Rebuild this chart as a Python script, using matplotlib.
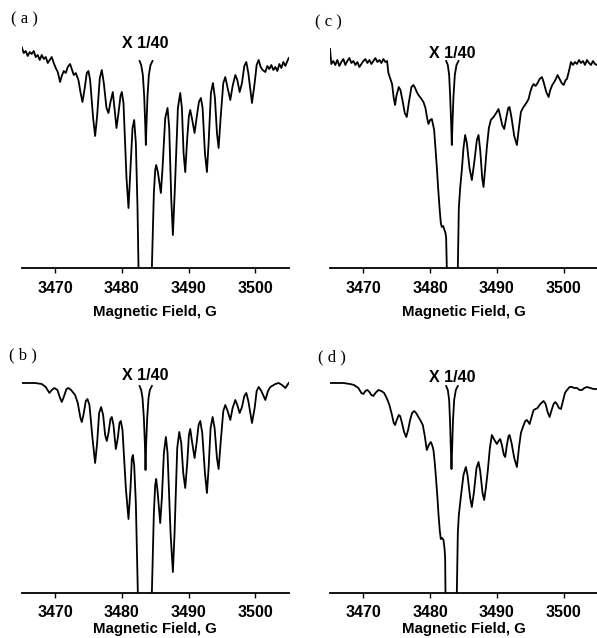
import numpy as np
import matplotlib
matplotlib.use('Agg')
import matplotlib.pyplot as plt

# EPR spectra, field in G, intensity in arbitrary units (baseline = 0)
# each panel: left wing, x1/40 inset of the central line, right wing

# (a)
a_left_x = [3465.0, 3465.3, 3465.6, 3465.9, 3466.2, 3466.5, 3466.8, 3467.1, 3467.4, 3467.7,
            3468.0, 3468.3, 3468.6, 3468.9, 3469.2, 3469.5, 3469.8, 3470.1, 3470.4, 3470.75,
            3471.0, 3471.3, 3471.6, 3471.9, 3472.25, 3472.5, 3472.8, 3473.1, 3473.5, 3473.8,
            3474.1, 3474.4, 3474.75, 3475.0, 3475.25, 3475.7, 3476.0, 3476.3, 3476.7, 3477.0,
            3477.3, 3477.7, 3478.0, 3478.3, 3478.65, 3478.9, 3479.2, 3479.5, 3479.8, 3480.0,
            3480.25, 3480.7, 3481.0, 3481.3, 3481.6, 3481.85, 3482.1, 3482.35, 3482.5]
a_left_y = [221, 215, 217, 212, 216, 214, 217, 211, 213, 208,
            213, 209, 211, 205, 208, 211, 205, 200, 196, 186,
            192, 197, 195, 201, 204, 199, 193, 195, 188, 176,
            166, 178, 195, 197, 188, 150, 132, 152, 190, 198,
            185, 160, 155, 166, 176, 160, 140, 155, 172, 176,
            165, 90, 60, 100, 140, 148, 125, 60, 0]
a_mid_x = [3482.65, 3482.9, 3483.15, 3483.35, 3483.5, 3483.6, 3483.7, 3483.85, 3484.05, 3484.3, 3484.6]
a_mid_y = [207, 203, 193, 172, 145, 123, 145, 172, 193, 203, 207]
a_right_x = [3484.5, 3484.8, 3485.0, 3485.15, 3485.4, 3485.85, 3486.1, 3486.5, 3486.85, 3487.1,
             3487.4, 3487.65, 3487.95, 3488.4, 3488.75, 3489.0, 3489.25, 3489.5, 3489.8, 3490.05,
             3490.25, 3490.55, 3490.9, 3491.2, 3491.55, 3491.85, 3492.1, 3492.45, 3492.75, 3493.0,
             3493.35, 3493.65, 3493.95, 3494.25, 3494.5, 3494.8, 3495.2, 3495.5, 3495.85, 3496.25,
             3496.6, 3497.0, 3497.3, 3497.65, 3498.0, 3498.35, 3498.65, 3498.95, 3499.5, 3499.9,
             3500.2, 3500.5, 3500.8, 3501.1, 3501.5, 3501.8, 3502.1, 3502.4, 3502.7, 3503.0,
             3503.3, 3503.6, 3503.9, 3504.2, 3504.5, 3504.8, 3505.0]
a_right_y = [0, 75, 98, 103, 96, 75, 100, 150, 160, 140,
             70, 33, 80, 160, 175, 160, 115, 96, 130, 152,
             158, 148, 135, 150, 166, 170, 160, 115, 96, 125,
             175, 185, 170, 135, 120, 150, 185, 191, 180, 168,
             182, 193, 188, 176, 185, 202, 206, 195, 165, 185,
             203, 208, 201, 198, 196, 202, 199, 203, 198, 201,
             197, 204, 200, 206, 202, 207, 210]

# (b)
b_left_x = [3465.0, 3467.0, 3468.0, 3468.6, 3469.15, 3469.5, 3469.9, 3470.35, 3470.75, 3471.0,
            3471.3, 3471.7, 3472.0, 3472.4, 3473.0, 3473.4, 3473.8, 3474.0, 3474.25, 3474.6,
            3474.85, 3475.15, 3475.6, 3476.0, 3476.3, 3476.6, 3476.9, 3477.2, 3477.5, 3477.75,
            3478.0, 3478.3, 3478.5, 3478.75, 3479.1, 3479.4, 3479.65, 3479.85, 3480.1, 3480.6,
            3481.0, 3481.3, 3481.5, 3481.65, 3481.85, 3482.1, 3482.4]
b_left_y = [210, 210, 209, 206, 200, 203, 205, 203, 195, 191,
            196, 204, 205, 203, 198, 190, 175, 171, 178, 192,
            194, 188, 155, 130, 150, 180, 186, 178, 158, 152,
            160, 174, 176, 168, 144, 155, 170, 172, 163, 105,
            74, 105, 134, 138, 128, 90, 0]
b_mid_x = [3482.65, 3482.9, 3483.1, 3483.3, 3483.45, 3483.55, 3483.65, 3483.8, 3484.0, 3484.2, 3484.5]
b_mid_y = [207, 203, 195, 175, 150, 123, 150, 175, 195, 203, 207]
b_right_x = [3484.5, 3484.8, 3485.0, 3485.15, 3485.35, 3485.75, 3486.0, 3486.3, 3486.6, 3486.85,
             3487.3, 3487.65, 3487.9, 3488.3, 3488.6, 3488.9, 3489.2, 3489.5, 3489.8, 3490.05,
             3490.25, 3490.5, 3490.9, 3491.2, 3491.5, 3491.75, 3492.05, 3492.45, 3492.75, 3493.0,
             3493.3, 3493.6, 3493.9, 3494.25, 3494.5, 3494.8, 3495.2, 3495.5, 3495.85, 3496.25,
             3496.6, 3497.0, 3497.3, 3497.65, 3498.0, 3498.35, 3498.65, 3498.95, 3499.5, 3499.9,
             3500.2, 3500.5, 3500.9, 3501.5, 3501.9, 3502.25, 3503.0, 3503.5, 3504.0, 3504.5,
             3505.0]
b_right_y = [0, 80, 108, 114, 102, 70, 95, 140, 156, 140,
             60, 21, 60, 145, 161, 150, 120, 105, 130, 158,
             164, 152, 135, 150, 168, 172, 160, 120, 100, 125,
             165, 176, 165, 135, 124, 150, 182, 188, 182, 173,
             185, 193, 188, 180, 186, 197, 200, 192, 170, 185,
             202, 206, 202, 193, 202, 206, 209, 210, 208, 205,
             210]

# (c)
c_left_x = [3465.0, 3465.2, 3465.5, 3465.8, 3466.1, 3466.4, 3466.7, 3467.0, 3467.3, 3467.6,
            3467.9, 3468.2, 3468.5, 3468.8, 3469.1, 3469.4, 3469.7, 3470.0, 3470.3, 3470.6,
            3470.9, 3471.2, 3471.5, 3471.8, 3472.1, 3472.4, 3472.7, 3473.0, 3473.3, 3473.55,
            3473.75, 3474.0, 3474.3, 3474.55, 3474.75, 3474.95, 3475.3, 3475.55, 3475.85, 3476.2,
            3476.5, 3476.8, 3477.2, 3477.5, 3477.75, 3478.0, 3478.25, 3478.6, 3479.0, 3479.3,
            3479.55, 3479.75, 3480.0, 3480.25, 3480.45, 3480.6, 3480.8, 3481.0, 3481.2, 3481.4,
            3481.6, 3481.75, 3481.95, 3482.1, 3482.3, 3482.4, 3482.5]
c_left_y = [219, 204, 207, 203, 208, 202, 206, 209, 203, 207,
            210, 205, 207, 203, 206, 201, 204, 207, 209, 205,
            208, 204, 207, 210, 206, 208, 205, 209, 206, 207,
            195, 190, 184, 170, 163, 172, 181, 178, 168, 155,
            151, 165, 181, 183, 180, 176, 173, 170, 166, 160,
            150, 144, 148, 149, 143, 138, 120, 101, 80, 61,
            45, 41, 42, 39, 35, 30, 0]
c_mid_x = [3482.4, 3482.65, 3482.85, 3483.0, 3483.15, 3483.25, 3483.35, 3483.5, 3483.7, 3483.95, 3484.25]
c_mid_y = [207, 203, 193, 172, 145, 123, 145, 172, 193, 203, 207]
c_right_x = [3484.15, 3484.3, 3484.5, 3484.75, 3485.0, 3485.25, 3485.5, 3485.9, 3486.25, 3486.6,
             3487.0, 3487.25, 3487.5, 3487.8, 3488.0, 3488.25, 3488.5, 3488.8, 3489.1, 3489.5,
             3489.9, 3490.25, 3490.5, 3490.8, 3491.1, 3491.4, 3491.7, 3491.9, 3492.2, 3492.6,
             3493.0, 3493.3, 3493.6, 3493.9, 3494.2, 3494.5, 3494.75, 3495.0, 3495.25, 3495.5,
             3495.8, 3496.1, 3496.4, 3496.75, 3497.0, 3497.4, 3497.75, 3498.0, 3498.3, 3498.6,
             3498.9, 3499.1, 3499.4, 3499.7, 3500.0, 3500.3, 3500.5, 3500.8, 3501.1, 3501.4,
             3501.7, 3502.0, 3502.3, 3502.6, 3502.9, 3503.2, 3503.5, 3503.8, 3504.1, 3504.4,
             3504.7, 3505.0]
c_right_y = [0, 60, 80, 98, 120, 133, 125, 100, 88, 105,
             128, 133, 118, 90, 81, 100, 121, 140, 148, 151,
             155, 159, 152, 143, 139, 150, 160, 161, 150, 132,
             123, 140, 156, 160, 163, 166, 169, 176, 181, 184,
             182, 185, 189, 191, 186, 176, 171, 178, 183, 186,
             190, 193, 189, 185, 183, 188, 189, 197, 206, 203,
             206, 204, 208, 205, 207, 203, 208, 205, 203, 207,
             204, 203]

# (d)
d_left_x = [3465.0, 3467.0, 3468.0, 3468.6, 3469.25, 3469.7, 3470.0, 3470.3, 3470.6, 3470.9,
            3471.2, 3471.5, 3471.8, 3472.25, 3472.7, 3473.1, 3473.5, 3473.9, 3474.25, 3474.55,
            3474.75, 3475.0, 3475.3, 3475.5, 3475.75, 3476.1, 3476.4, 3476.7, 3477.0, 3477.3,
            3477.6, 3477.9, 3478.25, 3478.6, 3478.9, 3479.2, 3479.5, 3479.8, 3480.1, 3480.3,
            3480.5, 3480.7, 3480.9, 3481.1, 3481.25, 3481.45, 3481.6, 3481.8, 3482.0, 3482.15,
            3482.25, 3482.3]
d_left_y = [210, 210, 209, 208, 205, 200, 199, 202, 203, 201,
            198, 197, 200, 203, 202, 200, 195, 188, 179, 170,
            168, 173, 178, 177, 171, 161, 156, 163, 173, 180,
            182, 180, 176, 172, 168, 157, 143, 148, 151, 148,
            143, 130, 113, 95, 79, 62, 54, 55, 53, 45,
            35, 0]
d_mid_x = [3482.4, 3482.65, 3482.85, 3482.98, 3483.1, 3483.2, 3483.3, 3483.42, 3483.6, 3483.85, 3484.15]
d_mid_y = [207, 203, 193, 172, 145, 124, 145, 172, 193, 203, 207]
d_right_x = [3484.0, 3484.15, 3484.3, 3484.65, 3485.0, 3485.35, 3485.6, 3486.0, 3486.25, 3486.55,
             3486.95, 3487.25, 3487.5, 3487.85, 3488.1, 3488.35, 3488.65, 3488.95, 3489.25, 3489.55,
             3490.0, 3490.25, 3490.5, 3490.75, 3491.05, 3491.25, 3491.5, 3491.75, 3491.9, 3492.2,
             3492.6, 3493.0, 3493.3, 3493.6, 3493.85, 3494.25, 3494.5, 3494.9, 3495.2, 3495.5,
             3495.8, 3496.1, 3496.5, 3497.0, 3497.3, 3497.6, 3497.9, 3498.2, 3498.5, 3498.75,
             3499.0, 3499.3, 3499.6, 3499.9, 3500.2, 3500.5, 3500.9, 3501.25, 3501.6, 3502.0,
             3502.4, 3502.75, 3503.1, 3503.5, 3504.0, 3504.5, 3505.0]
d_right_y = [0, 60, 78, 99, 118, 126, 118, 95, 86, 100,
             125, 131, 122, 100, 93, 105, 123, 145, 158, 154,
             149, 152, 154, 148, 138, 136, 148, 157, 158, 150,
             135, 126, 145, 160, 165, 172, 173, 169, 176, 183,
             184, 185, 189, 192, 189, 181, 176, 183, 189, 191,
             189, 185, 184, 192, 200, 203, 206, 206, 205, 205,
             203, 203, 205, 206, 205, 204, 204]

panel_names = ['( a )', '( b )', '( c )', '( d )']
inset_label = 'X 1/40'
xticks = [3470, 3480, 3490, 3500]
xlabel = 'Magnetic Field, G'

panels = [
    (a_left_x, a_left_y, a_mid_x, a_mid_y, a_right_x, a_right_y),
    (b_left_x, b_left_y, b_mid_x, b_mid_y, b_right_x, b_right_y),
    (c_left_x, c_left_y, c_mid_x, c_mid_y, c_right_x, c_right_y),
    (d_left_x, d_left_y, d_mid_x, d_mid_y, d_right_x, d_right_y),
]

W, H = 597, 638
fig = plt.figure(figsize=(W / 100, H / 100), dpi=100)

# axes boxes in pixels: left edge, baseline y (from top)
boxes = [(21.7, 268), (21.7, 593), (330, 268), (330, 593)]
ax_w, ax_h = 267, 230
label_pos = [(24, 19), (23, 355), (328, 22), (332, 357)]
inset_text = [(3483.5, 225), (3483.5, 218), (3483.3, 215), (3483.3, 216)]
# bottom row sits right at the page edge, so its xlabel is tighter
xlabel_pad = [6, 1.5, 6, 1.5]
tick_pad = [6, 5, 6, 5]

for i, (lx, ly, mx, my, rx, ry) in enumerate(panels):
    x0, yb = boxes[i]
    ax = fig.add_axes([x0 / W, (H - yb) / H, ax_w / W, ax_h / H])
    for xs, ys in [(lx, ly), (mx, my), (rx, ry)]:
        ax.plot(xs, ys, color='black', lw=1.3, solid_joinstyle='round')
    ax.set_xlim(3465, 3505)
    ax.set_ylim(0, ax_h)
    for s in ['top', 'left', 'right']:
        ax.spines[s].set_visible(False)
    ax.spines['bottom'].set_linewidth(1.3)
    ax.set_yticks([])
    ax.set_xticks(xticks)
    ax.tick_params(axis='x', direction='out', length=3.5, width=1.0, pad=tick_pad[i])
    for t in ax.get_xticklabels():
        t.set_fontfamily('Liberation Sans')
        t.set_fontweight('bold')
        t.set_fontsize(11.5)
    ax.set_xlabel(xlabel, fontfamily='Liberation Sans', fontweight='bold', fontsize=10.8,
                  labelpad=xlabel_pad[i])
    tx, ty = inset_text[i]
    ax.text(tx, ty, inset_label, ha='center', va='center', fontfamily='Liberation Sans',
            fontweight='bold', fontsize=11.5, clip_on=False)
    px, py = label_pos[i]
    fig.text(px / W, 1 - py / H, panel_names[i], ha='center', va='center',
             fontfamily='Liberation Serif', fontsize=12)

plt.savefig('out.png', dpi=100)
